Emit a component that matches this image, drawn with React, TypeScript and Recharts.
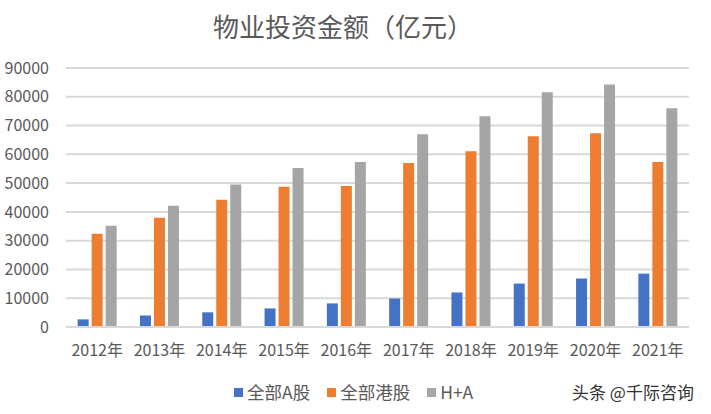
import { BarChart, Bar, XAxis, YAxis, CartesianGrid } from 'recharts';

const years = ['2012年', '2013年', '2014年', '2015年', '2016年', '2017年', '2018年', '2019年', '2020年', '2021年'];
const aShares = [2650, 4000, 5100, 6450, 8200, 9900, 12000, 15100, 16850, 18550];
const hkShares = [32400, 37950, 44200, 48700, 49000, 57000, 61100, 66300, 67350, 57300];
const hPlusA = [35200, 42100, 49500, 55250, 57300, 67000, 73250, 81550, 84300, 76000];
const yTicks = [0, 10000, 20000, 30000, 40000, 50000, 60000, 70000, 80000, 90000];

const series = [
  { key: 'a', name: '全部A股', color: '#4472C4', values: aShares },
  { key: 'hk', name: '全部港股', color: '#ED7D31', values: hkShares },
  { key: 'ha', name: 'H+A', color: '#A5A5A5', values: hPlusA },
];

const data = years.map((year, i) => ({
  year,
  a: aShares[i],
  hk: hkShares[i],
  ha: hPlusA[i],
}));

const font = '"Noto Sans CJK SC", "Noto Sans", sans-serif';
const textColor = '#595959';

export default function App() {
  return (
    <div style={{ position: 'absolute', left: 0, top: 0, width: 711, height: 414, background: '#fff', fontFamily: font }}>
      <div
        style={{
          position: 'absolute',
          top: 8,
          left: 0,
          width: 686,
          textAlign: 'center',
          fontSize: 26,
          color: textColor,
          lineHeight: '36px',
        }}
      >
        物业投资金额（亿元）
      </div>
      <BarChart
        width={711}
        height={414}
        data={data}
        margin={{ top: 68, right: 22, bottom: 57, left: 0 }}
        barCategoryGap="18.7%"
        barGap={3}
      >
        <CartesianGrid vertical={false} stroke="#d9d9d9" strokeWidth={2} />
        <XAxis
          dataKey="year"
          height={30}
          tick={{ fill: textColor, fontSize: 16, fontFamily: font }}
          axisLine={{ stroke: '#d9d9d9', strokeWidth: 2 }}
          tickLine={false}
          tickMargin={12}
        />
        <YAxis
          width={66}
          domain={[0, 90000]}
          ticks={yTicks}
          interval={0}
          tick={{ fill: textColor, fontSize: 16, fontFamily: font }}
          axisLine={false}
          tickLine={false}
          tickMargin={11}
        />
        {series.map((s) => (
          <Bar key={s.key} dataKey={s.key} name={s.name} fill={s.color} isAnimationActive={false} />
        ))}
      </BarChart>
      <div
        style={{
          position: 'absolute',
          top: 379,
          left: 234,
          display: 'flex',
          alignItems: 'center',
          fontSize: 17.5,
          color: textColor,
          lineHeight: '26px',
        }}
      >
        {series.map((s) => (
          <div key={s.key} style={{ display: 'flex', alignItems: 'center', marginRight: 17 }}>
            <span style={{ display: 'inline-block', width: 9, height: 9, background: s.color, marginRight: 4 }} />
            <span>{s.name}</span>
          </div>
        ))}
      </div>
      <div style={{ position: 'absolute', top: 379, left: 572, fontSize: 17, color: '#333', lineHeight: '26px' }}>
        头条 @千际咨询
      </div>
    </div>
  );
}
